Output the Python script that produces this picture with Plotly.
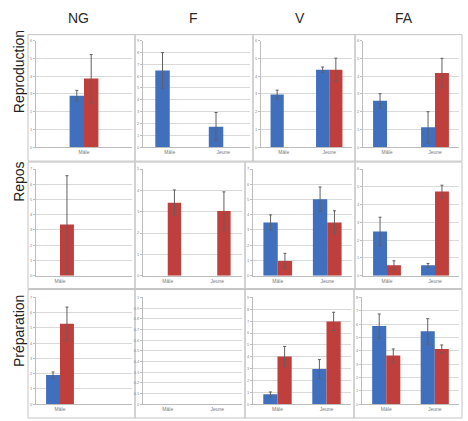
import plotly.graph_objects as go

# ---------------- data ----------------
columns = ["NG", "F", "V", "FA"]
rows = ["Reproduction", "Repos", "Préparation"]

cats_single = ["Mâle"]
cats_pair = ["Mâle", "Jeune"]

# Reproduction
repro_ng_blue, repro_ng_red = [2.9], [3.86]
repro_ng_blue_err, repro_ng_red_err = [0.3], [1.35]
repro_f_blue, repro_f_red = [6.48, 1.73], [None, None]
repro_f_blue_err, repro_f_red_err = [1.5, 1.2], [None, None]
repro_v_blue, repro_v_red = [2.96, 4.36], [None, 4.36]
repro_v_blue_err, repro_v_red_err = [0.25, 0.15], [None, 0.65]
repro_fa_blue, repro_fa_red = [2.61, 1.12], [None, 4.17]
repro_fa_blue_err, repro_fa_red_err = [0.4, 0.88], [None, 0.83]

# Repos
repos_ng_blue, repos_ng_red = [None], [3.36]
repos_ng_blue_err, repos_ng_red_err = [None], [3.2]
repos_f_blue, repos_f_red = [None, None], [3.42, 3.03]
repos_f_blue_err, repos_f_red_err = [None, None], [0.6, 0.9]
repos_v_blue, repos_v_red = [3.49, 5.02], [0.97, 3.49]
repos_v_blue_err, repos_v_red_err = [0.5, 0.8], [0.5, 0.77]
repos_fa_blue, repos_fa_red = [2.49, 0.59], [0.59, 4.74]
repos_fa_blue_err, repos_fa_red_err = [0.8, 0.1], [0.25, 0.35]

# Préparation
prep_ng_blue, prep_ng_red = [1.91], [5.27]
prep_ng_blue_err, prep_ng_red_err = [0.2], [1.1]
prep_f_blue, prep_f_red = [None, None], [None, None]
prep_f_blue_err, prep_f_red_err = [None, None], [None, None]
prep_v_blue, prep_v_red = [0.83, 2.96], [4.02, 6.98]
prep_v_blue_err, prep_v_red_err = [0.2, 0.8], [0.85, 0.77]
prep_fa_blue, prep_fa_red = [5.86, 5.46], [3.64, 4.14]
prep_fa_blue_err, prep_fa_red_err = [0.9, 0.95], [0.5, 0.3]

# axis maxima / tick steps per panel (row-major)
y_max = [6, 9, 6, 6,
         7, 5, 7, 6,
         7, 1, 9, 8]
y_step = [1, 1, 1, 1,
          1, 1, 1, 1,
          1, 0.1, 1, 1]

panels = [
    (cats_single, repro_ng_blue, repro_ng_red, repro_ng_blue_err, repro_ng_red_err),
    (cats_pair, repro_f_blue, repro_f_red, repro_f_blue_err, repro_f_red_err),
    (cats_pair, repro_v_blue, repro_v_red, repro_v_blue_err, repro_v_red_err),
    (cats_pair, repro_fa_blue, repro_fa_red, repro_fa_blue_err, repro_fa_red_err),
    (cats_single, repos_ng_blue, repos_ng_red, repos_ng_blue_err, repos_ng_red_err),
    (cats_pair, repos_f_blue, repos_f_red, repos_f_blue_err, repos_f_red_err),
    (cats_pair, repos_v_blue, repos_v_red, repos_v_blue_err, repos_v_red_err),
    (cats_pair, repos_fa_blue, repos_fa_red, repos_fa_blue_err, repos_fa_red_err),
    (cats_single, prep_ng_blue, prep_ng_red, prep_ng_blue_err, prep_ng_red_err),
    (cats_pair, prep_f_blue, prep_f_red, prep_f_blue_err, prep_f_red_err),
    (cats_pair, prep_v_blue, prep_v_red, prep_v_blue_err, prep_v_red_err),
    (cats_pair, prep_fa_blue, prep_fa_red, prep_fa_blue_err, prep_fa_red_err),
]

# ---------------- layout geometry (pixels) ----------------
W, H = 468, 421
row_top = [32, 161, 290]
row_bot = [160, 289, 420]
plot_top = [38, 168, 298]
plot_zero = [146, 276, 406]
col_borders = [
    [28, 135, 253, 355, 462],
    [28, 135, 245, 355, 462],
    [28, 135, 245, 354, 462],
]
# x ranges: NG panels in rows 2-3 reserve room for a second (empty) slot
x_ranges = [[-0.5, 0.5], None, None, None,
            [-0.5, 1.5], None, None, None,
            [-0.5, 1.5], None, None, None]
bar_w = [0.15, 0.27, 0.29, 0.29,
         0.29, 0.27, 0.29, 0.29,
         0.29, 0.27, 0.29, 0.29]

BLUE = "#3f6fbd"
RED = "#bf3f3d"
GRID = "#d9d9d9"
FRAME = "#c4c4c4"

fig = go.Figure()
shapes = []
layout = {}

for k, (cats, blue, red, be, re_) in enumerate(panels):
    r, c = divmod(k, 4)
    i = k + 1
    xa = "x" if i == 1 else f"x{i}"
    ya = "y" if i == 1 else f"y{i}"
    w = bar_w[k]
    for vals, errs, color, off in ((blue, be, BLUE, -w), (red, re_, RED, 0.0)):
        fig.add_trace(go.Bar(
            x=cats, y=vals,
            width=w, offset=off,
            marker=dict(color=color, line=dict(width=0)),
            error_y=dict(type="data", array=errs,
                         visible=True, color="#606060", thickness=1, width=1.5),
            xaxis=xa, yaxis=ya, showlegend=False,
        ))
    left = col_borders[r][c]
    right = col_borders[r][c + 1]
    dx = [(left + 8) / W, (right - 3) / W]
    dy = [1 - plot_zero[r] / H, 1 - plot_top[r] / H]
    xkey = "xaxis" if i == 1 else f"xaxis{i}"
    ykey = "yaxis" if i == 1 else f"yaxis{i}"
    xr = x_ranges[k] if x_ranges[k] is not None else [-0.5, len(cats) - 0.5]
    layout[xkey] = dict(
        domain=dx, anchor=ya, type="category", categoryarray=cats,
        range=xr, showgrid=False, showline=True, linecolor="#bdbdbd",
        linewidth=1, ticks="", tickfont=dict(size=5, color="#7a7a7a"),
        fixedrange=True,
    )
    layout[ykey] = dict(
        domain=dy, anchor=xa, range=[0, y_max[k]], dtick=y_step[k],
        showgrid=True, gridcolor=GRID, gridwidth=1, zeroline=False,
        showline=True, linecolor="#bdbdbd", linewidth=1,
        ticks="outside", ticklen=2, tickcolor="#bdbdbd",
        tickfont=dict(size=4, color="#8a8a8a"), fixedrange=True,
    )
    shapes.append(dict(
        type="rect", xref="paper", yref="paper",
        x0=left / W, x1=right / W, y0=1 - row_bot[r] / H, y1=1 - row_top[r] / H,
        line=dict(color=FRAME, width=1), fillcolor="rgba(0,0,0,0)", layer="below",
    ))

annotations = []
header_x = [78, 193, 300, 404]
for name, hx in zip(columns, header_x):
    annotations.append(dict(
        text=name, x=hx / W, y=1 - 15 / H, xref="paper", yref="paper",
        showarrow=False, xanchor="center", yanchor="middle",
        font=dict(family="Liberation Sans, Arial, sans-serif", size=14, color="#2b2b2b"),
    ))
row_label_y = [70, 181, 332]
for name, ry in zip(rows, row_label_y):
    annotations.append(dict(
        text=name, x=19 / W, y=1 - ry / H, xref="paper", yref="paper",
        showarrow=False, xanchor="center", yanchor="middle", textangle=-90,
        font=dict(family="Liberation Sans, Arial, sans-serif", size=14, color="#222222"),
    ))

fig.update_layout(
    width=W, height=H,
    margin=dict(l=0, r=0, t=0, b=0),
    paper_bgcolor="white", plot_bgcolor="white",
    barmode="overlay",
    shapes=shapes, annotations=annotations,
    font=dict(family="Liberation Sans, Arial, sans-serif"),
    hovermode=False,
    **layout,
)

fig.write_html(
    "out.html",
    config={"displayModeBar": False},
    post_script="document.body.style.margin='0';document.body.style.overflow='hidden';",
)
